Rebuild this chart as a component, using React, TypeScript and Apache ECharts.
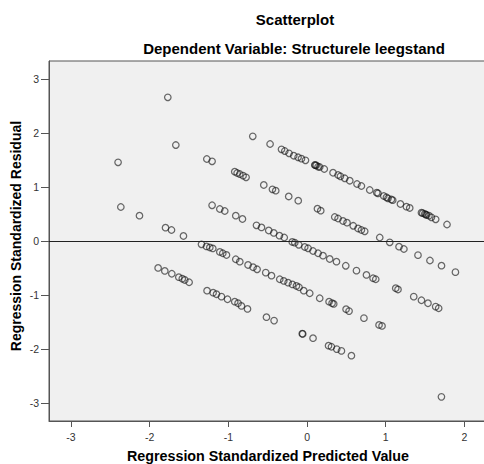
import React, { useEffect, useRef } from "react";
import * as echarts from "echarts";

// Regression Standardized Predicted Value (x) vs Regression Standardized Residual (y),
// read from the reference, grouped by the diagonal bands they sit on.
const band1: [number, number][] = [
  [-1.77, 2.667], [-0.69, 1.944], [-0.47, 1.802], [-0.325, 1.704], [-0.283, 1.672],
  [-0.229, 1.63], [-0.169, 1.585], [-0.114, 1.556], [-0.071, 1.53], [-0.02, 1.5],
  [0.098, 1.413], [0.105, 1.41], [0.117, 1.407], [0.14, 1.381], [0.161, 1.376],
  [0.219, 1.339], [0.33, 1.27], [0.394, 1.228], [0.424, 1.204], [0.479, 1.167],
  [0.543, 1.122], [0.635, 1.061], [0.691, 1.024], [0.797, 0.95], [0.886, 0.9],
  [0.902, 0.889], [0.975, 0.839], [1.009, 0.815], [1.029, 0.796], [1.072, 0.774],
  [1.089, 0.761], [1.187, 0.691], [1.263, 0.641], [1.305, 0.617], [1.454, 0.53],
  [1.47, 0.52], [1.496, 0.506], [1.51, 0.495], [1.521, 0.487], [1.55, 0.474],
  [1.581, 0.444], [1.635, 0.407], [1.779, 0.311],
];

const band2: [number, number][] = [
  [-1.668, 1.783], [-1.274, 1.524], [-1.207, 1.481], [-0.919, 1.289], [-0.889, 1.265],
  [-0.855, 1.246], [-0.813, 1.215], [-0.775, 1.185], [-0.55, 1.043], [-0.44, 0.963],
  [-0.398, 0.937], [-0.233, 0.83], [-0.112, 0.752], [0.132, 0.604], [0.174, 0.567],
  [0.352, 0.45], [0.394, 0.422], [0.457, 0.376], [0.508, 0.344], [0.587, 0.287],
  [0.648, 0.237], [0.691, 0.209], [0.733, 0.185], [0.924, 0.07], [1.051, -0.019],
  [1.169, -0.1], [1.231, -0.143], [1.41, -0.257], [1.562, -0.356], [1.709, -0.452],
  [1.886, -0.572],
];

const band3: [number, number][] = [
  [-2.402, 1.463], [-1.207, 0.667], [-1.109, 0.598], [-1.046, 0.561], [-0.906, 0.474],
  [-0.821, 0.413], [-0.643, 0.296], [-0.579, 0.256], [-0.487, 0.2], [-0.423, 0.154],
  [-0.351, 0.104], [-0.29, 0.07], [-0.188, -0.013], [-0.156, -0.026], [-0.105, -0.065],
  [-0.029, -0.106], [0.013, -0.13], [0.076, -0.18], [0.14, -0.222], [0.203, -0.267],
  [0.288, -0.328], [0.374, -0.378], [0.492, -0.454], [0.628, -0.544], [0.755, -0.624],
  [0.839, -0.685], [0.873, -0.704], [1.127, -0.87], [1.156, -0.893], [1.356, -1.026],
  [1.454, -1.093], [1.537, -1.148], [1.635, -1.211], [1.673, -1.241],
];

const band4: [number, number][] = [
  [-2.367, 0.635], [-2.13, 0.474], [-1.799, 0.252], [-1.723, 0.209], [-1.571, 0.098],
  [-1.342, -0.056], [-1.278, -0.096], [-1.236, -0.115], [-1.198, -0.133], [-1.109, -0.198],
  [-1.071, -0.222], [-1.024, -0.254], [-0.906, -0.333], [-0.855, -0.378], [-0.75, -0.439],
  [-0.686, -0.481], [-0.635, -0.519], [-0.525, -0.581], [-0.452, -0.637], [-0.347, -0.704],
  [-0.296, -0.735], [-0.241, -0.767], [-0.186, -0.8], [-0.135, -0.828], [-0.102, -0.852],
  [-0.042, -0.915], [0.034, -0.963], [0.161, -1.056], [0.28, -1.119], [0.318, -1.148],
  [0.339, -1.161], [0.496, -1.259], [0.534, -1.294], [0.723, -1.424], [0.915, -1.55],
  [0.953, -1.569],
];

const band5: [number, number][] = [
  [-1.893, -0.494], [-1.808, -0.55], [-1.719, -0.602], [-1.63, -0.665], [-1.586, -0.694],
  [-1.554, -0.717], [-1.499, -0.759], [-1.271, -0.915], [-1.194, -0.952], [-1.151, -0.981],
  [-1.088, -1.026], [-1.011, -1.074], [-0.919, -1.119], [-0.877, -1.148], [-0.834, -1.198],
  [-0.757, -1.254], [-0.516, -1.407], [-0.419, -1.47], [-0.061, -1.713], [-0.055, -1.716],
  [0.076, -1.796], [0.273, -1.935], [0.31, -1.954], [0.377, -1.998], [0.437, -2.031],
  [0.564, -2.12], [1.708, -2.883],
];

const tickValues = [-3, -2, -1, 0, 1, 2, 3];
const xTickValues = [-3, -2, -1, 0, 1, 2];

const chartTitle = "Scatterplot";
const chartSubtitle = "Dependent Variable: Structurele leegstand";
const xTitle = "Regression Standardized Predicted Value";
const yTitle = "Regression Standardized Residual";

const FONT = "'Liberation Sans', Arial, sans-serif";

export default function App() {
  const ref = useRef<HTMLDivElement>(null);
  useEffect(() => {
    if (!ref.current) return;
    const chart = echarts.init(ref.current, undefined, { renderer: "svg" });
    const points = [...band1, ...band2, ...band3, ...band4, ...band5];
    chart.setOption({
      animation: false,
      grid: {
        left: 49,
        top: 61,
        bottom: 43,
        right: -4,
        show: true,
        backgroundColor: "#f0f0f0",
        borderColor: "#555",
        borderWidth: 1,
        containLabel: false,
        outerBoundsMode: "none",
      },
      xAxis: {
        type: "value",
        min: -3.28,
        max: 2.3,
        axisLine: { show: true, onZero: false, lineStyle: { color: "#555", width: 1 } },
        axisTick: { show: true, length: 6, customValues: xTickValues, lineStyle: { color: "#555" } },
        axisLabel: {
          customValues: xTickValues,
          margin: 10,
          color: "#333",
          fontSize: 10.5,
          fontFamily: FONT,
        },
        splitLine: { show: false },
      },
      yAxis: {
        type: "value",
        min: -3.33,
        max: 3.34,
        axisLine: { show: true, onZero: false, lineStyle: { color: "#555", width: 1 } },
        axisTick: { show: true, length: 8, customValues: tickValues, lineStyle: { color: "#555" } },
        axisLabel: {
          customValues: tickValues,
          margin: 10,
          color: "#333",
          fontSize: 10.5,
          fontFamily: FONT,
        },
        splitLine: { show: false },
      },
      graphic: [
        {
          type: "text",
          x: 295,
          y: 19,
          style: {
            text: chartTitle,
            font: `bold 15px ${FONT}`,
            fill: "#000",
            textAlign: "center",
            textVerticalAlign: "middle",
          },
        },
        {
          type: "text",
          x: 294,
          y: 48,
          style: {
            text: chartSubtitle,
            font: `bold 15px ${FONT}`,
            fill: "#000",
            textAlign: "center",
            textVerticalAlign: "middle",
          },
        },
        {
          type: "text",
          x: 268,
          y: 456,
          style: {
            text: xTitle,
            font: `bold 14.3px ${FONT}`,
            fill: "#000",
            textAlign: "center",
            textVerticalAlign: "middle",
          },
        },
        {
          type: "text",
          x: 16,
          y: 236,
          rotation: Math.PI / 2,
          style: {
            text: yTitle,
            font: `bold 14px ${FONT}`,
            fill: "#000",
            textAlign: "center",
            textVerticalAlign: "middle",
          },
        },
      ],
      series: [
        {
          type: "scatter",
          data: points,
          symbol: "circle",
          symbolSize: 6.5,
          silent: true,
          itemStyle: {
            color: "rgba(0,0,0,0)",
            borderColor: "rgba(20,20,20,0.78)",
            borderWidth: 1.25,
          },
          emphasis: { disabled: true },
          markLine: {
            silent: true,
            symbol: "none",
            label: { show: false },
            lineStyle: { color: "#222", width: 1, type: "solid" },
            data: [{ yAxis: 0 }],
          },
        },
      ],
    });
    return () => chart.dispose();
  }, []);
  return (
    <div
      ref={ref}
      style={{ position: "absolute", left: 0, top: 0, width: 484, height: 464, background: "#fff" }}
    />
  );
}
